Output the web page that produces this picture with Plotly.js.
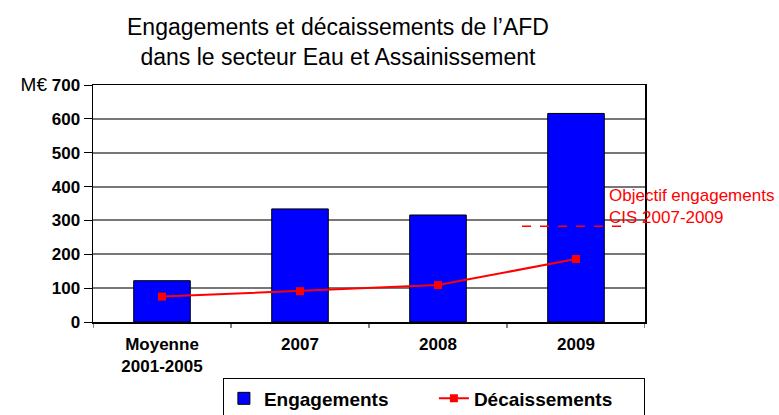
<!DOCTYPE html>
<html>
<head>
<meta charset="utf-8">
<script src="https://cdn.plot.ly/plotly-3.0.1.min.js"></script>
<style>html,body{margin:0;padding:0;background:#fff;}#chart{width:779px;height:415px;}</style>
</head>
<body>
<div id="chart"></div>
<script>
const categories = ["<b>Moyenne</b><br><b>2001-2005</b>", "<b>2007</b>", "<b>2008</b>", "<b>2009</b>"];
const engagements = [122, 334, 316, 616];
const decaissements = [75, 91, 109, 186];
const objectifEngagements = 283;
const objectifLabel = "Objectif engagements<br>CIS 2007-2009";
const titleText = "Engagements et décaissements de l’AFD<br>dans le secteur Eau et Assainissement";
const yTickVals = [0, 100, 200, 300, 400, 500, 600, 700];
const yTickText = ["<b>0</b>", "<b>100</b>", "<b>200</b>", "<b>300</b>", "<b>400</b>", "<b>500</b>", "<b>600</b>", "<span style='font-size:19px'>M€</span> <b>700</b>"];

const font = "Liberation Sans, Arial, sans-serif";
const xIdx = categories.map((c, i) => i);

const traces = [
  {
    type: "bar", name: "<b>Engagements</b>", x: xIdx, y: engagements,
    width: 0.41,
    marker: {color: "#0000FF", line: {color: "#000000", width: 1}}
  },
  {
    type: "scatter", mode: "lines+markers", name: "<b>Décaissements</b>", x: xIdx, y: decaissements,
    line: {color: "#FF0000", width: 2},
    marker: {symbol: "square", size: 8, color: "#FF0000"}
  }
];

const edgeTicks = [-0.5, 0.5, 1.5, 2.5, 3.5].map(b => ({type: "line", xref: "x", yref: "paper",
  x0: b, x1: b, y0: 0, y1: -0.025, line: {color: "#000", width: 1}}));

const layout = {
  width: 779, height: 415,
  margin: {l: 93, r: 134, t: 85, b: 93},
  paper_bgcolor: "#fff", plot_bgcolor: "#fff",
  font: {family: font, color: "#000"},
  xaxis: {
    range: [-0.5, 3.5],
    tickmode: "array", tickvals: xIdx, ticktext: categories,
    tickfont: {family: font, size: 17, color: "#000"},
    showline: true, linecolor: "#000", linewidth: 1.5, mirror: true,
    showgrid: false, zeroline: false,
    ticks: "outside", ticklen: 6, tickcolor: "rgba(0,0,0,0)", automargin: false
  },
  yaxis: {
    range: [0, 700],
    tickmode: "array", tickvals: yTickVals, ticktext: yTickText,
    tickfont: {family: font, size: 17, color: "#000"},
    ticks: "outside", ticklen: 8, tickcolor: "#000", tickwidth: 1,
    showline: true, linecolor: "#000", linewidth: 1.5, mirror: true,
    showgrid: true, gridcolor: "#777777", gridwidth: 2,
    zeroline: false, automargin: false
  },
  shapes: [
    {type: "line", xref: "x", yref: "y", x0: 2.609, x1: 3.333, y0: objectifEngagements, y1: objectifEngagements,
     line: {color: "#FF0000", width: 1.5, dash: "dash"}},
    ...edgeTicks
  ],
  annotations: [
    {xref: "paper", yref: "paper", x: 0.444, y: 1.182, xanchor: "center", yanchor: "middle", align: "center",
     text: titleText, showarrow: false,
     font: {family: font, size: 23, color: "#000"}},
    {xref: "x", yref: "y", x: 3.225, y: 342, xanchor: "left", yanchor: "middle", align: "left",
     text: objectifLabel, showarrow: false,
     font: {family: font, size: 17, color: "#FF0000"}}
  ],
  showlegend: true,
  legend: {
    orientation: "h", xref: "container", yref: "container",
    x: 0.557, xanchor: "center", y: 0.088, yanchor: "top",
    bordercolor: "#000", borderwidth: 1, bgcolor: "#fff",
    font: {family: font, size: 19, color: "#000"},
    entrywidth: 165, entrywidthmode: "pixels",
    traceorder: "normal"
  },
  bargap: 0.59
};

Plotly.newPlot("chart", traces, layout, {displayModeBar: false, staticPlot: true});
</script>
</body>
</html>
